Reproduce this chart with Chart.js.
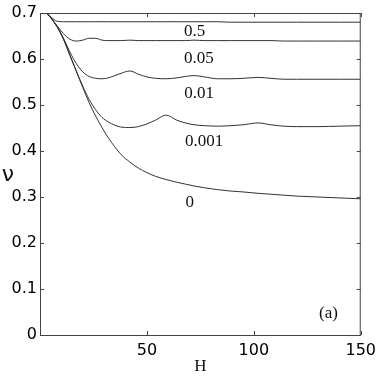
<!DOCTYPE html>
<html>
<head>
<meta charset="utf-8">
<script src="https://cdn.jsdelivr.net/npm/chart.js@4/dist/chart.umd.min.js"></script>
<style>
    body { margin: 0; background: #fff; }
    #wrap { width: 382px; height: 378px; }
</style>
</head>
<body>
<div id="wrap"><canvas id="chart-nu" width="382" height="378"></canvas></div>
<script>
// --- Data ---
const hValues = [3, 5, 8, 11, 14, 17, 20, 23, 26, 29, 32, 35, 38, 42, 46, 50, 54, 59, 64, 68, 72, 77, 83, 89, 95, 102, 108, 114, 120, 130, 140, 150];

const nu05 = [0.700, 0.692, 0.682, 0.681, 0.681, 0.681, 0.681, 0.681, 0.681, 0.681, 0.681, 0.681, 0.681, 0.681, 0.681, 0.681, 0.681, 0.681, 0.681, 0.681, 0.681, 0.681, 0.681, 0.680, 0.680, 0.680, 0.680, 0.680, 0.680, 0.680, 0.680, 0.680];
const nu005 = [0.700, 0.690, 0.672, 0.655, 0.643, 0.639, 0.641, 0.645, 0.645, 0.641, 0.640, 0.640, 0.640, 0.641, 0.640, 0.640, 0.640, 0.640, 0.640, 0.640, 0.641, 0.640, 0.640, 0.640, 0.640, 0.640, 0.640, 0.639, 0.639, 0.639, 0.639, 0.639];
const nu001 = [0.700, 0.690, 0.670, 0.645, 0.615, 0.590, 0.572, 0.562, 0.558, 0.557, 0.559, 0.564, 0.569, 0.574, 0.567, 0.561, 0.558, 0.557, 0.559, 0.562, 0.564, 0.561, 0.557, 0.557, 0.558, 0.560, 0.558, 0.556, 0.556, 0.556, 0.556, 0.556];
const nu0001 = [0.700, 0.690, 0.670, 0.643, 0.608, 0.574, 0.541, 0.512, 0.490, 0.473, 0.463, 0.456, 0.452, 0.451, 0.453, 0.459, 0.467, 0.478, 0.467, 0.461, 0.457, 0.455, 0.454, 0.455, 0.457, 0.461, 0.457, 0.454, 0.453, 0.453, 0.454, 0.455];
const nu0 = [0.700, 0.690, 0.670, 0.643, 0.608, 0.573, 0.538, 0.505, 0.476, 0.451, 0.428, 0.409, 0.392, 0.376, 0.363, 0.353, 0.345, 0.338, 0.332, 0.328, 0.324, 0.320, 0.316, 0.313, 0.311, 0.308, 0.306, 0.304, 0.302, 0.300, 0.298, 0.296];

const curveLabels = ["0.5", "0.05", "0.01", "0.001", "0"];
const xTicks = [50, 100, 150];
const yTicks = [0, 0.1, 0.2, 0.3, 0.4, 0.5, 0.6, 0.7];

// where the curve names sit (data units)
const labelSpots = [
    { h: 67.3, v: 0.659 },
    { h: 67.3, v: 0.602 },
    { h: 67.5, v: 0.525 },
    { h: 67.8, v: 0.420 },
    { h: 68.0, v: 0.289 }
];

const toPoints = (serie) => hValues.map((h, i) => ({ x: h, y: serie[i] }));

// --- Frame, inward ticks and text ---
const framePlugin = {
    id: "frame",
    afterDraw(chart) {
        const { ctx, chartArea: a, scales: { x, y } } = chart;
        ctx.save();
        ctx.strokeStyle = "#444";
        ctx.lineWidth = 1;
        ctx.strokeRect(a.left + 0.5, a.top + 0.5, a.right - a.left - 1, a.bottom - a.top);
        ctx.beginPath();
        yTicks.forEach(v => {
            const py = Math.round(y.getPixelForValue(v)) + 0.5;
            ctx.moveTo(a.left, py); ctx.lineTo(a.left + 4, py);
            ctx.moveTo(a.right, py); ctx.lineTo(a.right - 4, py);
        });
        xTicks.forEach(v => {
            const px = Math.round(x.getPixelForValue(v)) + 0.5;
            ctx.moveTo(px, a.bottom); ctx.lineTo(px, a.bottom - 4);
            ctx.moveTo(px, a.top); ctx.lineTo(px, a.top + 4);
        });
        ctx.stroke();

        ctx.fillStyle = "#111";
        ctx.textBaseline = "middle";
        ctx.textAlign = "left";
        ctx.font = '17px "Liberation Serif"';
        curveLabels.forEach((txt, i) => {
            ctx.fillText(txt, x.getPixelForValue(labelSpots[i].h), y.getPixelForValue(labelSpots[i].v));
        });
        ctx.fillText("(a)", x.getPixelForValue(130.5), y.getPixelForValue(0.046));

        ctx.textAlign = "center";
        ctx.fillText("H", (a.left + a.right) / 2, 367);
        ctx.font = '22px "DejaVu Sans"';
        ctx.fillText("ν", 8, (a.top + a.bottom) / 2 + 1);
        ctx.restore();
    }
};

const lineStyle = { borderColor: "#333", borderWidth: 1, pointRadius: 0, fill: false, cubicInterpolationMode: "monotone" };

new Chart(document.getElementById("chart-nu"), {
    type: "line",
    data: {
        datasets: [
            { label: curveLabels[0], data: toPoints(nu05), ...lineStyle },
            { label: curveLabels[1], data: toPoints(nu005), ...lineStyle },
            { label: curveLabels[2], data: toPoints(nu001), ...lineStyle },
            { label: curveLabels[3], data: toPoints(nu0001), ...lineStyle },
            { label: curveLabels[4], data: toPoints(nu0), ...lineStyle }
        ]
    },
    options: {
        responsive: false,
        animation: false,
        layout: { padding: { top: 13, right: 19, bottom: 0, left: 0 } },
        plugins: { legend: { display: false }, tooltip: { enabled: false } },
        scales: {
            x: {
                type: "linear",
                min: 0,
                max: 150,
                afterFit: (s) => { s.height = 43; },
                grid: { display: false, drawTicks: false },
                border: { display: false },
                ticks: {
                    stepSize: 50,
                    autoSkip: false,
                    maxRotation: 0,
                    padding: 6,
                    color: "#000",
                    font: { family: "DejaVu Sans", size: 16 },
                    callback: (v) => (v === 0 ? "" : v)
                }
            },
            y: {
                min: 0,
                max: 0.7,
                afterFit: (s) => { s.width = 40; },
                grid: { display: false, drawTicks: false },
                border: { display: false },
                ticks: {
                    stepSize: 0.1,
                    padding: 3,
                    color: "#000",
                    font: { family: "DejaVu Sans", size: 16 },
                    callback: (v) => Number(v.toFixed(1)).toString()
                }
            }
        }
    },
    plugins: [framePlugin]
});
</script>
</body>
</html>
